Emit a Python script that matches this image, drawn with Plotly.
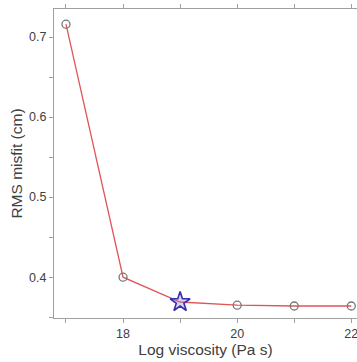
import plotly.graph_objects as go

log_viscosity = [17, 18, 19, 20, 21, 22]
rms_misfit = [0.716, 0.400, 0.369, 0.365, 0.364, 0.364]
best_x = [19]
best_y = [0.369]
x_tick_vals = [18, 20, 22]
y_tick_vals = [0.4, 0.5, 0.6, 0.7]

fig = go.Figure()
fig.add_trace(go.Scatter(
    x=log_viscosity, y=rms_misfit, mode="lines",
    line=dict(color="#e0555a", width=1.3), showlegend=False, cliponaxis=False))
circ_x = [x for x in log_viscosity if x not in best_x]
circ_y = [y for x, y in zip(log_viscosity, rms_misfit) if x not in best_x]
fig.add_trace(go.Scatter(
    x=circ_x, y=circ_y, mode="markers", cliponaxis=False,
    marker=dict(symbol="circle-open", size=8, color="#777777", line=dict(width=1.3)),
    showlegend=False))
fig.add_trace(go.Scatter(
    x=best_x, y=best_y, mode="markers",
    marker=dict(symbol="star", size=15, color="rgba(150,130,220,0.35)",
                line=dict(width=1.6, color="#3a2fa8")),
    showlegend=False))

axis_common = dict(
    showgrid=False, zeroline=False, showline=True, linecolor="#a0a0a0", linewidth=1.2,
    ticks="outside", ticklen=4, tickcolor="#a0a0a0", tickwidth=1,
    tickfont=dict(family="Liberation Sans, Arial", size=12.5, color="#404040"),
)
title_font = dict(family="Liberation Sans, Arial", size=15.5, color="#404040")
fig.update_xaxes(
    **axis_common, range=[16.79, 22.1], tickmode="array", tickvals=x_tick_vals,
    mirror="ticks", ticklabeloverflow="allow",
    minor=dict(dtick=1, tick0=17, ticks="outside", ticklen=4, tickcolor="#a0a0a0", showgrid=False),
    title=dict(text="Log viscosity (Pa s)", font=title_font, standoff=3),
)
fig.update_yaxes(
    **axis_common, range=[0.349, 0.735], tickmode="array", tickvals=y_tick_vals,
    minor=dict(dtick=0.05, tick0=0.35, ticks="outside", ticklen=4, tickcolor="#a0a0a0", showgrid=False),
    title=dict(text="RMS misfit (cm)", font=title_font, standoff=2),
)
fig.update_layout(
    width=357, height=362, margin=dict(l=54, r=0, t=9, b=44, autoexpand=False),
    plot_bgcolor="white", paper_bgcolor="white",
)
fig.write_html("out.html", config={"displayModeBar": False},
               post_script="document.body.style.margin='0px';document.body.style.overflow='hidden';")
